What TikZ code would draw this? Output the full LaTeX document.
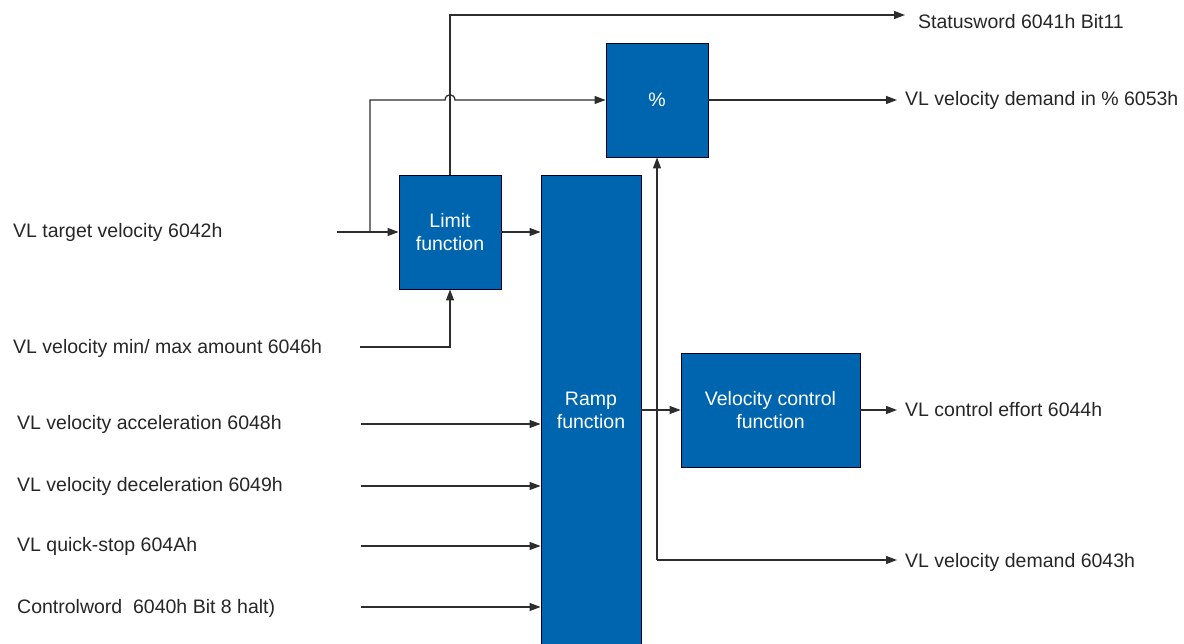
\documentclass[tikz,border=0pt]{standalone}
\usepackage{fontspec}
\setmainfont{Liberation Sans}
\usetikzlibrary{arrows.meta,calc}
\definecolor{blkblue}{RGB}{0,101,175}
\definecolor{lncol}{RGB}{45,45,45}
\begin{document}
\begin{tikzpicture}[x=1pt,y=-1pt,
  blk/.style={draw=black!85!blue, fill=blkblue, text=white, align=center, inner sep=0pt, line width=0.9pt},
  lbl/.style={anchor=west, inner sep=0pt, text=black!85},
  conn/.style={draw=lncol, line width=1.3pt},
  arr/.style={conn, -{Triangle[length=11pt,width=8pt]}},
  font=\fontsize{19.5}{23}\selectfont]
\useasboundingbox (0,0) rectangle (1184,644);
% blocks
\node[blk, minimum width=102pt, minimum height=114pt] (lim) at (450,232) {Limit\\function};
\node[blk, minimum width=100pt, minimum height=470pt] (ramp) at (591,410) {Ramp\\function};
\node[blk, minimum width=102pt, minimum height=114pt] (pct) at (657,100) {\%};
\node[blk, minimum width=179pt, minimum height=114pt] (vc) at (770.5,410) {Velocity control\\function};
% input labels
\node[lbl] (tv) at (13,232) {VL target velocity 6042h};
\node[lbl] (mm) at (13,348) {VL velocity min/ max amount 6046h};
\node[lbl] (acc) at (17,424) {VL velocity acceleration 6048h};
\node[lbl] (dec) at (17,486) {VL velocity deceleration 6049h};
\node[lbl] (qs) at (17,546) {VL quick-stop 604Ah};
\node[lbl] (cw) at (17,608) {Controlword\ \ 6040h Bit 8 halt)};
% output labels
\node[lbl] (sw) at (918,22) {Statusword 6041h Bit11};
\node[lbl] (pout) at (905,100) {VL velocity demand in \% 6053h};
\node[lbl] (ce) at (905,410) {VL control effort 6044h};
\node[lbl] (vd) at (905,562) {VL velocity demand 6043h};
% coordinates
\coordinate (tvs) at (337,232);
\coordinate (br1) at (370,232);
\coordinate (mms) at (360,347);
\coordinate (swa) at (905,15);
\coordinate (pcta) at (897,100);
\coordinate (cea) at (897,410);
\coordinate (vda) at (897,560);
\coordinate (br2) at (657,560);
\coordinate (accs) at (361,424);
\coordinate (decs) at (361,486);
\coordinate (qss) at (361,546);
\coordinate (cws) at (361,607);
% connectors
\draw[arr] (tvs) -- (lim.west);
\draw[arr] (br1) -- (370,100) -- (445,100) .. controls (445.5,93) and (454.5,93) .. (455,100) -- (pct.west);
\draw[arr] (lim.north) |- (swa);
\draw[arr] (lim.east) -- (lim.east -| ramp.west);
\draw[arr] (mms) -| (lim.south);
\draw[arr] (ramp.east) -- (vc.west);
\draw[arr] (br2) -- (pct.south);
\draw[arr] (br2) -- (vda);
\draw[arr] (pct.east) -- (pcta);
\draw[arr] (vc.east) -- (cea);
\draw[arr] (accs) -- (accs -| ramp.west);
\draw[arr] (decs) -- (decs -| ramp.west);
\draw[arr] (qss) -- (qss -| ramp.west);
\draw[arr] (cws) -- (cws -| ramp.west);
\end{tikzpicture}
\end{document}
